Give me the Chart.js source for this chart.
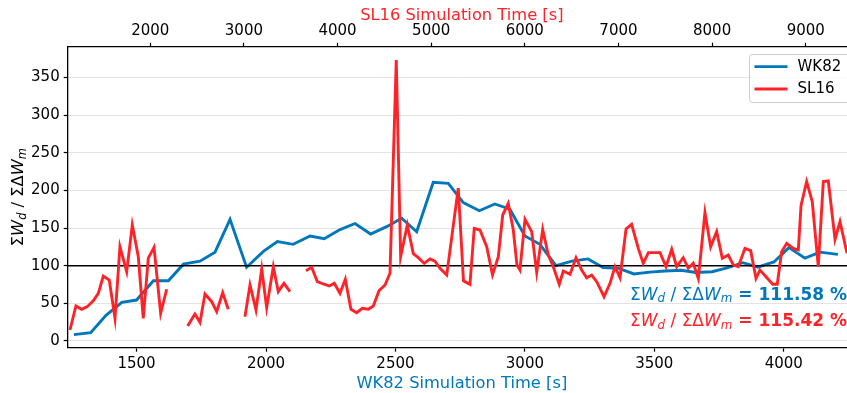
<!DOCTYPE html>
<html>
<head>
<meta charset="utf-8">
<script src="https://cdn.jsdelivr.net/npm/chart.js@4.4.1/dist/chart.umd.min.js"></script>
<style>
  html, body { margin: 0; padding: 0; overflow: hidden; background: #fff; }
  #chart { display: block; width: 870px; height: 393px; }
</style>
</head>
<body>
<canvas id="chart" width="870" height="393"></canvas>
<script>
// WK82 run: time on the bottom axis, ratio in percent
const wk82Time = [1258, 1323, 1382, 1443, 1500, 1565, 1623, 1681, 1745, 1803, 1861, 1925, 1990, 2044,
  2105, 2170, 2225, 2286, 2344, 2404, 2466, 2524, 2582, 2646, 2704, 2762, 2824, 2884, 2942, 3000,
  3058, 3120, 3182, 3244, 3302, 3363, 3421, 3483, 3541, 3603, 3661, 3723, 3781, 3842, 3900, 3962,
  4020, 4082, 4140, 4209];
const wk82Ratio = [8.4, 11, 34, 51.4, 54.4, 80, 80, 102, 106, 118, 161.6, 98, 119, 132,
  128.4, 139.4, 135.9, 148, 156, 142, 151.8, 163, 145, 210.7, 209.4, 183.7, 173, 182, 175, 139.4,
  128.4, 100, 106, 109, 97.5, 96.5, 89, 91.5, 93, 94, 91, 92, 97, 104, 98, 105,
  124, 110, 118, 115];

// SL16 run: time on the top axis, null marks a gap in the output
const sl16Time = [1142, 1206, 1267, 1327, 1391, 1445, 1498, 1562, 1623, 1676, 1748, 1808, 1872, 1925,
  1979, 2040, 2111, 2175, 2290,
  2399, 2477, 2531, 2584, 2656, 2709, 2773, 2833, 2920,
  3011, 3065, 3129, 3190, 3243, 3314, 3367, 3428, 3492, 3580,
  3663, 3724, 3784, 3848, 3912, 3965, 4026, 4083, 4143, 4204, 4264, 4328, 4382, 4443, 4507, 4560,
  4627, 4674, 4745, 4809, 4862, 4926, 4987, 5040, 5094, 5166, 5222, 5289, 5345, 5414, 5460, 5521,
  5593, 5655, 5717, 5764, 5823, 5877, 5916, 5948, 6002, 6073, 6127, 6191, 6251, 6304, 6368, 6411,
  6483, 6547, 6607, 6661, 6714, 6768, 6846, 6910, 6963, 7017, 7081, 7141, 7212, 7265, 7319, 7380,
  7444, 7508, 7569, 7622, 7692, 7746, 7799, 7853, 7924, 7985, 8049, 8109, 8173, 8226, 8280, 8351,
  8412, 8469, 8511, 8576, 8647, 8696, 8743, 8797, 8867, 8921, 8950, 9010, 9070, 9134, 9188, 9241,
  9313, 9366, 9441];
const sl16Ratio = [14.6, 46.5, 42, 45.6, 53.5, 63.3, 86.3, 81, 30.1, 125.2, 92, 154, 112, 30,
  110, 124.4, 36.8, 68.7, null,
  19.9, 35.9, 24.8, 62.4, 52.2, 38.9, 64.1, 42.1, null,
  32.3, 74.4, 41.2, 95.6, 44.2, 98.7, 65.5, 76.6, 65.5, null,
  93.4, 97.9, 78.8, 75.7, 73, 76.6, 63.3, 81.9, 42.1, 37.6, 43.4, 42.1, 46.5, 66.8, 74.4, 89.9,
  373, 112, 154, 116, 110.6, 103, 109, 106, 96.5, 87.6, 140, 203, 80, 75.3, 149.6, 147.4,
  125.2, 88, 112, 167.3, 182.8, 147.4, 101, 94.3, 161.6, 145.2, 91, 148, 114, 98.7, 75.3, 93,
  88.6, 110.6, 94.3, 84, 87.6, 78.8, 58.8, 76.6, 98.7, 84, 148.7, 155, 123, 103, 117.3, 117.3,
  117.3, 98.7, 121.8, 98.7, 110.6, 96.5, 103.2, 83, 170.4, 125, 145.2, 109.8, 114.2, 101, 98.7, 123,
  120, 83.3, 94.3, 85.4, 75.3, 75.3, 118.6, 129.7, 123, 121, 180, 211.6, 185, 98.7, 211.6, 212.5,
  135, 158.4, 116.5];

const referenceLevel = 100;
const wk82Total = '111.58 %';
const sl16Total = '115.42 %';

const xTicks = [1500, 2000, 2500, 3000, 3500, 4000];
const x2Ticks = [2000, 3000, 4000, 5000, 6000, 7000, 8000, 9000];
const yTicks = [0, 50, 100, 150, 200, 250, 300, 350];

const BLUE = '#0077bb';
const RED = '#ff2328';
const FONT = '"DejaVu Sans", sans-serif';

const wk82Points = wk82Time.map((t, i) => ({ x: t, y: wk82Ratio[i] }));
const sl16Points = sl16Time.map((t, i) => ({ x: t, y: sl16Ratio[i] }));

const xMin = 1234, xMax = 4279;
const x2Min = 1118, x2Max = 9537;

// draws "ΣW_d / ΣΔW_m" style text, returns end x
function mathRuns(ctx, runs, x, y, size, measureOnly) {
  runs.forEach(([t, s]) => {
    let sub = s.includes('s');
    let fs = sub ? size * 0.7 : size;
    ctx.font = (s.includes('b') ? 'bold ' : '') + (s.includes('i') ? 'italic ' : '') + fs + 'px ' + FONT;
    if (!measureOnly) ctx.fillText(t, x, sub ? y + size * 0.17 : y);
    x += ctx.measureText(t).width;
  });
  return x;
}

const ratioLabel = [['Σ', ''], ['W', 'i'], ['d', 'is'], [' / ', ''], ['ΣΔ', ''], ['W', 'i'], ['m', 'is']];

const decorations = {
  id: 'decorations',
  afterDraw(chart) {
    const ctx = chart.ctx;
    const area = chart.chartArea;
    const cx = (area.left + area.right) / 2;
    ctx.save();
    ctx.textBaseline = 'alphabetic';

    // axis titles
    ctx.font = '16.3px ' + FONT;
    ctx.textAlign = 'center';
    ctx.fillStyle = RED;
    ctx.fillText('SL16 Simulation Time [s]', cx, 20);
    ctx.fillStyle = BLUE;
    ctx.fillText('WK82 Simulation Time [s]', cx, 388);

    // y title, rotated
    ctx.textAlign = 'left';
    ctx.fillStyle = '#000';
    ctx.save();
    ctx.translate(23.3, (area.top + area.bottom) / 2);
    ctx.rotate(-Math.PI / 2);
    let w = mathRuns(ctx, ratioLabel, 0, 0, 16.3, true);
    mathRuns(ctx, ratioLabel, -w / 2, 0, 16.3);
    ctx.restore();

    // totals
    ctx.fillStyle = BLUE;
    mathRuns(ctx, ratioLabel.concat([[' = ' + wk82Total, 'b']]), 630, 299.5, 17);
    ctx.fillStyle = RED;
    mathRuns(ctx, ratioLabel.concat([[' = ' + sl16Total, 'b']]), 630, 325.7, 17);

    // legend box
    ctx.beginPath();
    ctx.roundRect(749.5, 54.5, 103, 48, 3);
    ctx.fillStyle = 'rgba(255,255,255,0.8)';
    ctx.fill();
    ctx.strokeStyle = '#cccccc';
    ctx.lineWidth = 1;
    ctx.stroke();
    [['WK82', BLUE, 66.7], ['SL16', RED, 89]].forEach(([name, col, ly]) => {
      ctx.strokeStyle = col;
      ctx.lineWidth = 2.8;
      ctx.beginPath();
      ctx.moveTo(754.5, ly);
      ctx.lineTo(787.5, ly);
      ctx.stroke();
      ctx.fillStyle = '#000';
      ctx.font = '15px ' + FONT;
      ctx.textBaseline = 'middle';
      ctx.fillText(name, 797.5, ly);
    });
    ctx.restore();
  }
};

const tickFont = { family: FONT, size: 15 };
const plainNumber = v => String(v);
const fixedTicks = list => s => { s.ticks = list.map(v => ({ value: v })); };

new Chart(document.getElementById('chart'), {
  type: 'line',
  data: {
    datasets: [
      {
        label: 'SL16',
        data: sl16Points,
        xAxisID: 'x2',
        borderColor: RED,
        borderWidth: 2.9,
        pointRadius: 0,
        tension: 0,
        spanGaps: false,
        fill: false
      },
      {
        label: 'ref',
        data: [{ x: xMin, y: referenceLevel }, { x: xMax, y: referenceLevel }],
        xAxisID: 'x',
        borderColor: '#000',
        borderWidth: 1.6,
        pointRadius: 0,
        fill: false
      },
      {
        label: 'WK82',
        data: wk82Points,
        xAxisID: 'x',
        borderColor: BLUE,
        borderWidth: 2.9,
        pointRadius: 0,
        tension: 0,
        fill: false
      }
    ]
  },
  options: {
    responsive: false,
    animation: false,
    devicePixelRatio: 1,
    layout: { padding: { left: 0, right: 14, top: 0, bottom: 0 } },
    plugins: { legend: { display: false }, tooltip: { enabled: false } },
    scales: {
      x: {
        type: 'linear',
        position: 'bottom',
        min: xMin,
        max: xMax,
        afterBuildTicks: fixedTicks(xTicks),
        ticks: { callback: plainNumber, color: '#000', font: tickFont, padding: 3.5, maxRotation: 0, autoSkip: false },
        grid: { drawOnChartArea: false, tickLength: 4, tickColor: '#000', tickWidth: 1.2 },
        border: { color: '#000', width: 1.3 },
        afterFit: s => { s.height = 45.3; }
      },
      x2: {
        type: 'linear',
        position: 'top',
        min: x2Min,
        max: x2Max,
        afterBuildTicks: fixedTicks(x2Ticks),
        ticks: { callback: plainNumber, color: '#000', font: tickFont, padding: 2.2, maxRotation: 0, autoSkip: false },
        grid: { drawOnChartArea: false, tickLength: 4, tickColor: '#000', tickWidth: 1.2 },
        border: { color: '#000', width: 1.3 },
        afterFit: s => { s.height = 46.7; }
      },
      y: {
        min: -8.9,
        max: 390.8,
        afterBuildTicks: fixedTicks(yTicks),
        ticks: { callback: plainNumber, color: '#000', font: tickFont, padding: 4 },
        grid: { color: '#e3e3e3', lineWidth: 1, tickLength: 4, tickColor: '#000', tickWidth: 1.2 },
        border: { color: '#000', width: 1.3 },
        afterFit: s => { s.width = 67.7; }
      }
    }
  },
  plugins: [decorations]
});
</script>
</body>
</html>
